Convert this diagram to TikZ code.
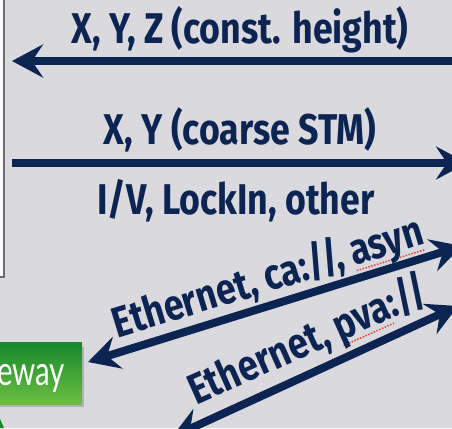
\documentclass[tikz,border=0pt]{standalone}
\usepackage{fontspec}
\setmainfont{Fira Sans}
\newfontfamily\labelfont[FakeStretch=0.83]{Fira Sans}
\newfontfamily\boxfont{Lato}
\usetikzlibrary{arrows.meta}
\definecolor{bgpanel}{HTML}{D9D9DE}
\definecolor{navy}{HTML}{0B2452}
\definecolor{gwtop}{HTML}{17892B}
\definecolor{gwbot}{HTML}{6CBF43}
\definecolor{spell}{HTML}{E8403A}
% red dotted spell-check mark under a word
\newcommand\spellmark[1]{\leavevmode\setbox0\hbox{#1}%
  \rlap{\raisebox{-6pt}{\color{spell}\hbox to \wd0{\leaders\hbox to 3pt{\hss\rule{1.5pt}{1.5pt}\hss}\hfill}}}\box0}
\begin{document}
\begin{tikzpicture}[x=1pt,y=-1pt,
  >={Stealth[length=31pt,width=33pt,inset=11pt]},
  link/.style={draw=navy, line width=8pt},
  lbl/.style={font=\labelfont\bfseries\fontsize{43}{43}\selectfont, text=navy, inner sep=0pt, anchor=base},
  panel/.style={draw=gray!85!black, fill=white!96!gray, line width=2pt},
  gateway/.style={top color=gwtop, bottom color=gwbot, draw=none},
]
\useasboundingbox (0,0) rectangle (452,428);
\begin{scope}
\clip (0,0) rectangle (452,428);
\fill[bgpanel] (0,0) rectangle (452,428);

% host panel on the left
\node[panel, minimum width=30pt, minimum height=300pt, anchor=south east, inner sep=0pt] (host) at (5,278) {};

% gateway box
\fill[black, opacity=0.18] (-20,347) rectangle (84,407);
\node[gateway, minimum width=110pt, minimum height=62pt, anchor=south east, inner sep=0pt] (gw) at (82,405) {};
\node[font=\boxfont\fontsize{41}{41}\selectfont, text=white, anchor=base west, inner sep=0pt] (gwtext) at (-3,385) {\scalebox{0.72}[1]{eway}};
\fill[gwtop] (0,419) -- (4,428) -- (0,428) -- cycle;

% end points of the connectors
\coordinate (a1r) at (470,61);
\coordinate (a1l) at (12,61);
\coordinate (a2l) at (12,163);
\coordinate (a2r) at (467,163);
\coordinate (a3l) at (88,362);
\coordinate (a3r) at (462,246);
\coordinate (a4l) at (172,437);
\coordinate (a4r) at (458,306);

\draw[link,->] (a1r) -- (a1l);
\draw[link,->] (a2l) -- (a2r);
\draw[link,<->] (a3l) -- (a3r);
\draw[link,<->] (a4l) -- (a4r);

% labels
\node[lbl] (t1) at (240,44) {X, Y, Z (const. height)};
\node[lbl] (t2) at (240,144) {X, Y (coarse STM)};
\node[lbl] (t3) at (236,214) {I/V, LockIn, other};
\node[lbl, rotate=17] (t4) at (272,291) {Ethernet, ca://, \spellmark{asyn}};
\node[lbl, rotate=24] (t5) at (314,353) {Ethernet, \spellmark{pva}://};
\end{scope}
\end{tikzpicture}
\end{document}
